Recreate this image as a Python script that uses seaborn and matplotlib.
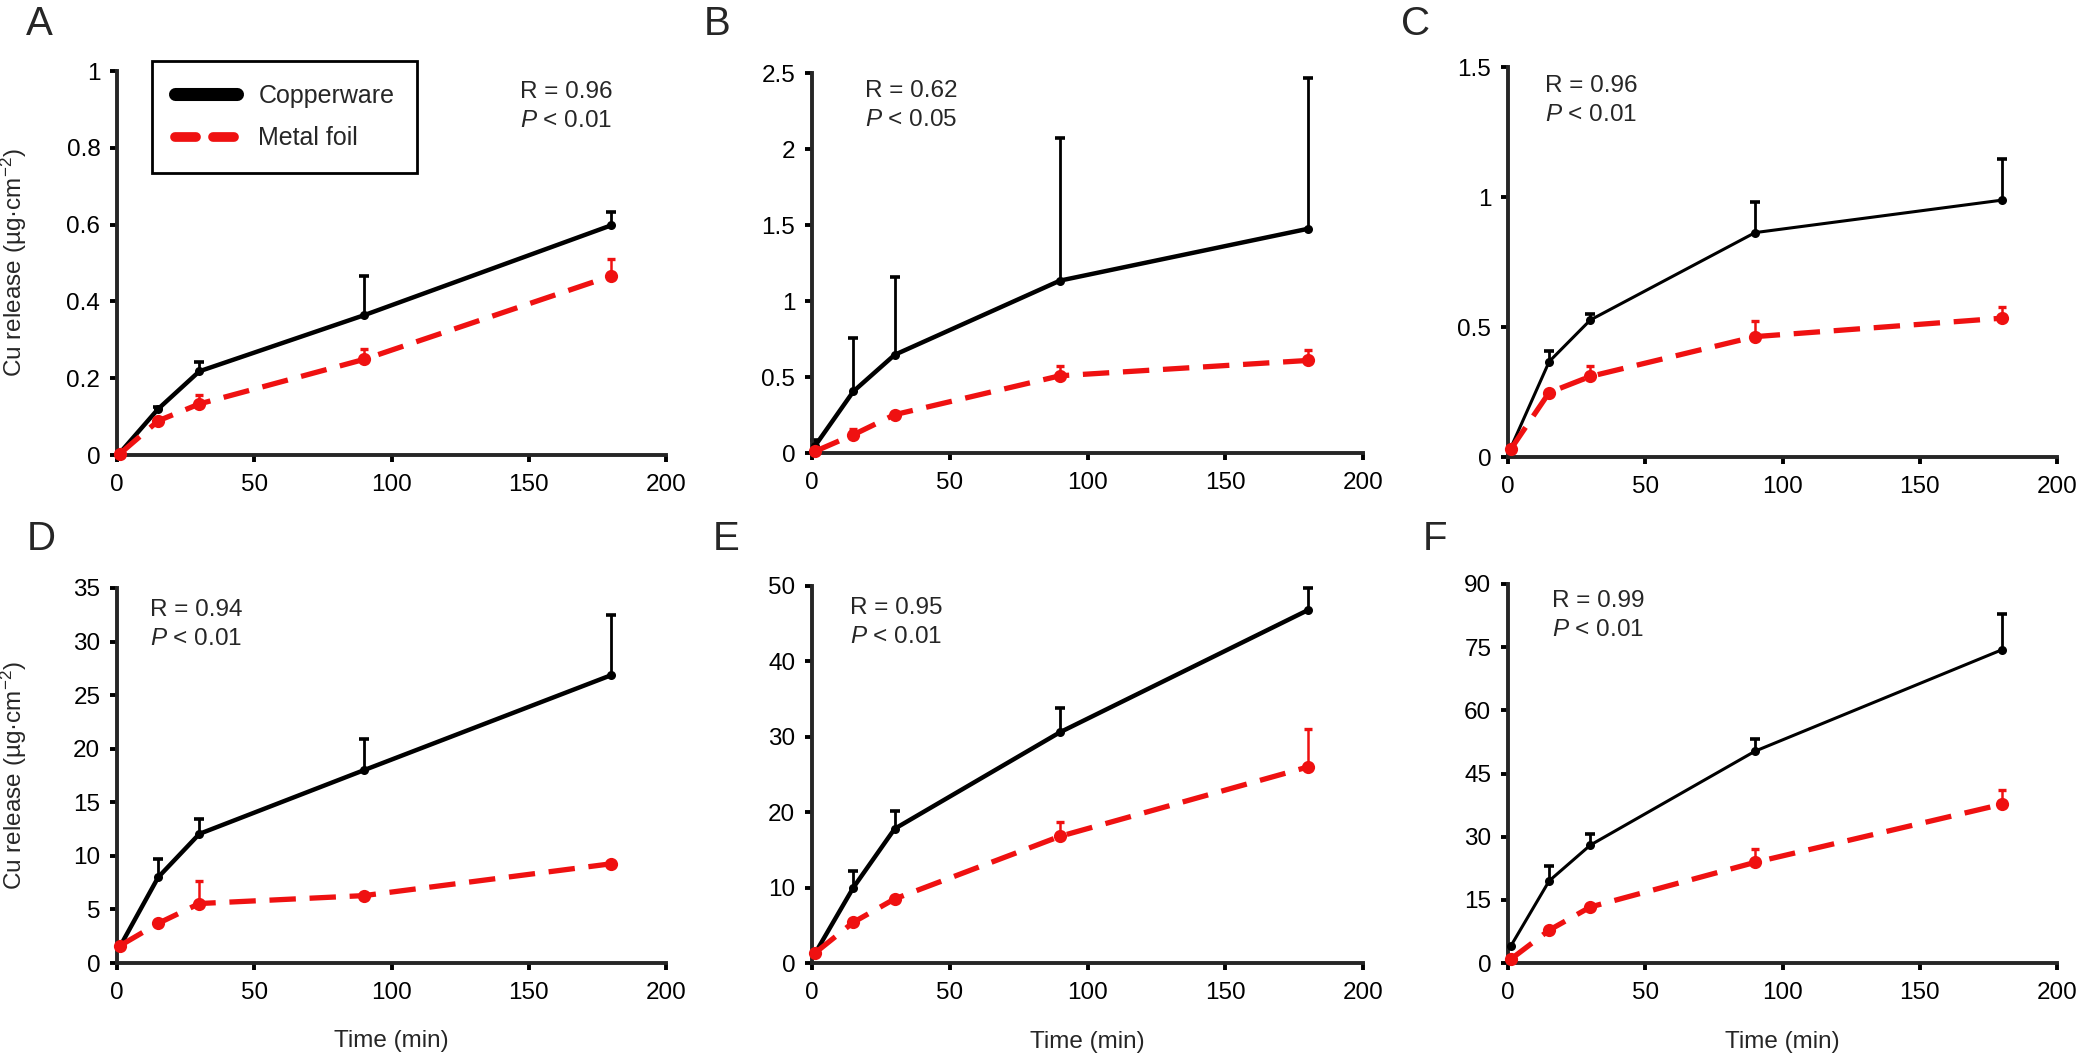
import numpy as np
import pandas as pd
import matplotlib
matplotlib.use("Agg")
import matplotlib.pyplot as plt
from matplotlib.lines import Line2D
from matplotlib.ticker import FuncFormatter
import seaborn as sns

# sampling times (min)
time_min = [1, 15, 30, 90, 180]

# Cu release, mean and upper error, per panel
a_cu = [0.005, 0.12, 0.218, 0.364, 0.598]
a_cu_err = [0.0, 0.006, 0.024, 0.102, 0.034]
a_foil = [0.003, 0.089, 0.133, 0.249, 0.466]
a_foil_err = [0.0, 0.008, 0.024, 0.028, 0.044]

b_cu = [0.044, 0.405, 0.646, 1.134, 1.475]
b_cu_err = [0.044, 0.35, 0.51, 0.94, 0.994]
b_foil = [0.01, 0.12, 0.252, 0.508, 0.609]
b_foil_err = [0.0, 0.038, 0.018, 0.062, 0.071]

c_cu = [0.035, 0.367, 0.527, 0.863, 0.988]
c_cu_err = [0.0, 0.039, 0.023, 0.116, 0.16]
c_foil = [0.03, 0.248, 0.31, 0.463, 0.534]
c_foil_err = [0.0, 0.0, 0.041, 0.062, 0.042]

d_cu = [1.5, 8.0, 12.05, 18.0, 26.86]
d_cu_err = [0.0, 1.7, 1.41, 2.9, 5.64]
d_foil = [1.6, 3.7, 5.55, 6.29, 9.26]
d_foil_err = [0.0, 0.2, 2.09, 0.15, 0.1]

e_cu = [1.2, 10.0, 17.8, 30.6, 46.8]
e_cu_err = [0.0, 2.2, 2.4, 3.2, 2.9]
e_foil = [1.3, 5.4, 8.5, 16.8, 26.0]
e_foil_err = [0.0, 0.3, 0.3, 1.9, 5.1]

f_cu = [4.0, 19.5, 28.0, 50.3, 74.4]
f_cu_err = [0.0, 3.5, 2.6, 2.9, 8.5]
f_foil = [0.9, 7.8, 13.3, 23.9, 37.7]
f_foil_err = [0.0, 0.5, 0.5, 3.1, 3.3]

panel_letters = ["A", "B", "C", "D", "E", "F"]
r_values = ["0.96", "0.62", "0.96", "0.94", "0.95", "0.99"]
p_values = ["0.01", "0.05", "0.01", "0.01", "0.01", "0.01"]
y_max = [1, 2.5, 1.5, 35, 50, 90]
y_step = [0.2, 0.5, 0.5, 5, 10, 15]
series_names = ["Copperware", "Metal foil"]

sns.set_style("ticks")
plt.rcParams["font.family"] = ["Liberation Sans", "DejaVu Sans"]
plt.rcParams["mathtext.fontset"] = "custom"
plt.rcParams["mathtext.rm"] = "Liberation Sans"
plt.rcParams["mathtext.it"] = "Liberation Sans:italic"

black = "#000000"
red = "#ef1111"

panels = [
    (a_cu, a_cu_err, a_foil, a_foil_err),
    (b_cu, b_cu_err, b_foil, b_foil_err),
    (c_cu, c_cu_err, c_foil, c_foil_err),
    (d_cu, d_cu_err, d_foil, d_foil_err),
    (e_cu, e_cu_err, e_foil, e_foil_err),
    (f_cu, f_cu_err, f_foil, f_foil_err),
]

W, H = 2085, 1059
fig = plt.figure(figsize=(W / 100, H / 100), dpi=100)

# axes boxes in pixels: left, right, top, bottom
boxes = [(117, 666, 71, 455), (812, 1363, 73, 453), (1508, 2057, 67, 457),
         (117, 666, 588, 963), (812, 1363, 586, 963), (1508, 2057, 584, 963)]
letter_pos = [(26, 35), (704, 35), (1401, 35), (27, 550), (713, 550), (1423, 550)]
stat_pos = [(0.734, 0.93), (0.096, 0.937), (0.067, 0.936),
            (0.06, 0.925), (0.069, 0.925), (0.08, 0.94)]
black_lw = [3.2, 3.2, 2.2, 3.2, 3.2, 2.2]


def draw_err(ax, x, y, err, color, lw, cap_ms):
    x = np.array(x)
    y = np.array(y)
    err = np.array(err)
    keep = err > 0
    ax.errorbar(x[keep], y[keep], yerr=[np.zeros(keep.sum()), err[keep]], fmt="none",
                ecolor=color, elinewidth=lw, capsize=0, clip_on=False, zorder=2)
    ax.plot(x[keep], (y + err)[keep], ls="none", marker="_", ms=cap_ms, mew=lw + 0.6,
            color=color, clip_on=False, zorder=2)


for i, (cu, cu_err, foil, foil_err) in enumerate(panels):
    l, r, t, b = boxes[i]
    ax = fig.add_axes([l / W, 1 - b / H, (r - l) / W, (b - t) / H])

    draw_err(ax, time_min, cu, cu_err, black, 2.0, 7)
    sns.lineplot(x=time_min, y=cu, ax=ax, color=black, lw=black_lw[i], marker="o",
                 ms=6.5, mec=black, mew=0, clip_on=False, zorder=3)
    draw_err(ax, time_min, foil, foil_err, red, 1.8, 6)
    sns.lineplot(x=time_min, y=foil, ax=ax, color=red, lw=3.8, marker="o",
                 ms=9.5, mec=red, mew=0, linestyle=(0, (5, 2.6)), clip_on=False, zorder=4)

    ax.set_xlim(0, 200)
    ax.set_ylim(0, y_max[i])
    ax.set_xticks(np.arange(0, 201, 50))
    ax.set_yticks(np.arange(0, y_max[i] + y_step[i] / 2, y_step[i]))
    ax.yaxis.set_major_formatter(FuncFormatter(lambda v, _: f"{v:g}"))
    sns.despine(ax=ax)
    for side in ["left", "bottom"]:
        ax.spines[side].set_linewidth(2.8)
    ax.tick_params(axis="both", direction="out", length=5, width=2.8,
                   labelsize=17.5, colors="black")
    ax.tick_params(axis="x", pad=9)
    ax.tick_params(axis="y", pad=7)
    ax.set_xlabel("")
    ax.set_ylabel("")

    sx, sy = stat_pos[i]
    ax.annotate(f"R = {r_values[i]}", xy=(sx, sy), xycoords="axes fraction",
                fontsize=17.5, va="baseline", ha="left")
    ax.annotate(rf"$\mathit{{P}}$ < {p_values[i]}", xy=(sx, sy), xycoords="axes fraction",
                xytext=(0, -21), textcoords="offset points",
                fontsize=17.5, va="baseline", ha="left")

    if i in (0, 3):
        ax.set_ylabel(r"Cu release (µg·cm$^{-2}$)", fontsize=17.5)
        ax.yaxis.set_label_coords(-0.16, 0.5)
    if i >= 3:
        ax.set_xlabel("Time (min)", fontsize=17.5)
        ax.xaxis.set_label_coords(0.5, -0.18)
        ax.xaxis.label.set_va("top")

    if i == 0:
        handles = [
            Line2D([], [], color=black, lw=9.4, solid_capstyle="round"),
            Line2D([], [], color=red, lw=7, dash_capstyle="round",
                   linestyle=(0, (2.16, 1.75))),
        ]
        leg = ax.legend(handles, series_names, loc="upper left",
                        bbox_to_anchor=((152 - l) / (r - l), (b - 61) / (b - t)),
                        fontsize=18, frameon=True, fancybox=False, shadow=False,
                        handlelength=2.5, handletextpad=0.85, borderpad=0.9,
                        labelspacing=0.75, borderaxespad=0)
        leg.get_frame().set_edgecolor("black")
        leg.get_frame().set_linewidth(2.0)
        leg.get_frame().set_alpha(1)

    lx, ly = letter_pos[i]
    fig.text(lx / W, 1 - ly / H, panel_letters[i], fontsize=29, ha="left", va="baseline")

fig.savefig("out.png", dpi=100)
